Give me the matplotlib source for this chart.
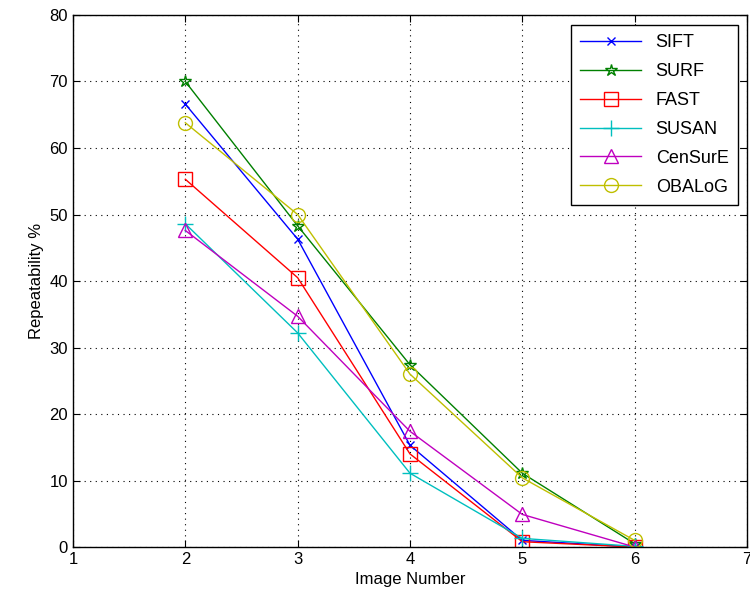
import matplotlib
matplotlib.use("Agg")
import matplotlib.pyplot as plt

plt.rcParams['font.family'] = ['Liberation Sans', 'DejaVu Sans']

# image index on the x axis
images = [2, 3, 4, 5, 6]

# repeatability % per detector
sift = [66.6, 46.3, 15.3, 1.0, 0.0]
surf = [70.0, 48.3, 27.4, 11.1, 0.5]
fast = [55.3, 40.5, 14.0, 0.8, 0.0]
susan = [48.6, 32.2, 11.1, 1.3, 0.1]
censure = [47.6, 34.7, 17.4, 4.9, 0.0]
obalog = [63.8, 50.0, 26.0, 10.4, 1.0]

names = ["SIFT", "SURF", "FAST", "SUSAN", "CenSurE", "OBALoG"]
series = [sift, surf, fast, susan, censure, obalog]
colors = [(0, 0, 1), (0, 0.5, 0), (1, 0, 0), (0, 0.75, 0.75), (0.75, 0, 0.75), (0.75, 0.75, 0)]
markers = ["x", "*", "s", "+", "^", "o"]
msizes = [6, 9, 10, 12, 10, 10]

fig = plt.figure(figsize=(7.5, 6.07), dpi=100)
ax = fig.add_axes([0.0973, 0.0988, 0.8987, 0.8765])

for name, vals, c, m, ms in zip(names, series, colors, markers, msizes):
    ax.plot(images, vals, color=c, marker=m, markersize=ms, markerfacecolor="none",
            markeredgecolor=c, markeredgewidth=1.0, linewidth=1.0, label=name)

ax.set_xlim(1, 7)
ax.set_ylim(0, 80)
ax.set_xticks(range(1, 8))
ax.set_yticks(range(0, 81, 10))
ax.grid(True, color="black", linestyle=(0, (1, 4)), linewidth=0.8)
ax.tick_params(direction="in", top=True, right=True, labelsize=12, length=5)
for s in ax.spines.values():
    s.set_linewidth(1.0)

ax.set_xlabel("Image Number", fontsize=12)
ax.set_ylabel("Repeatability %", fontsize=12)

leg = ax.legend(loc="upper right", bbox_to_anchor=(0.986, 0.981), borderaxespad=0,
                fontsize=13, fancybox=False, framealpha=1, edgecolor="black",
                handlelength=3.4, labelspacing=0.66, borderpad=0.5)
leg.get_frame().set_linewidth(1.0)

fig.savefig("out.png", dpi=100)
